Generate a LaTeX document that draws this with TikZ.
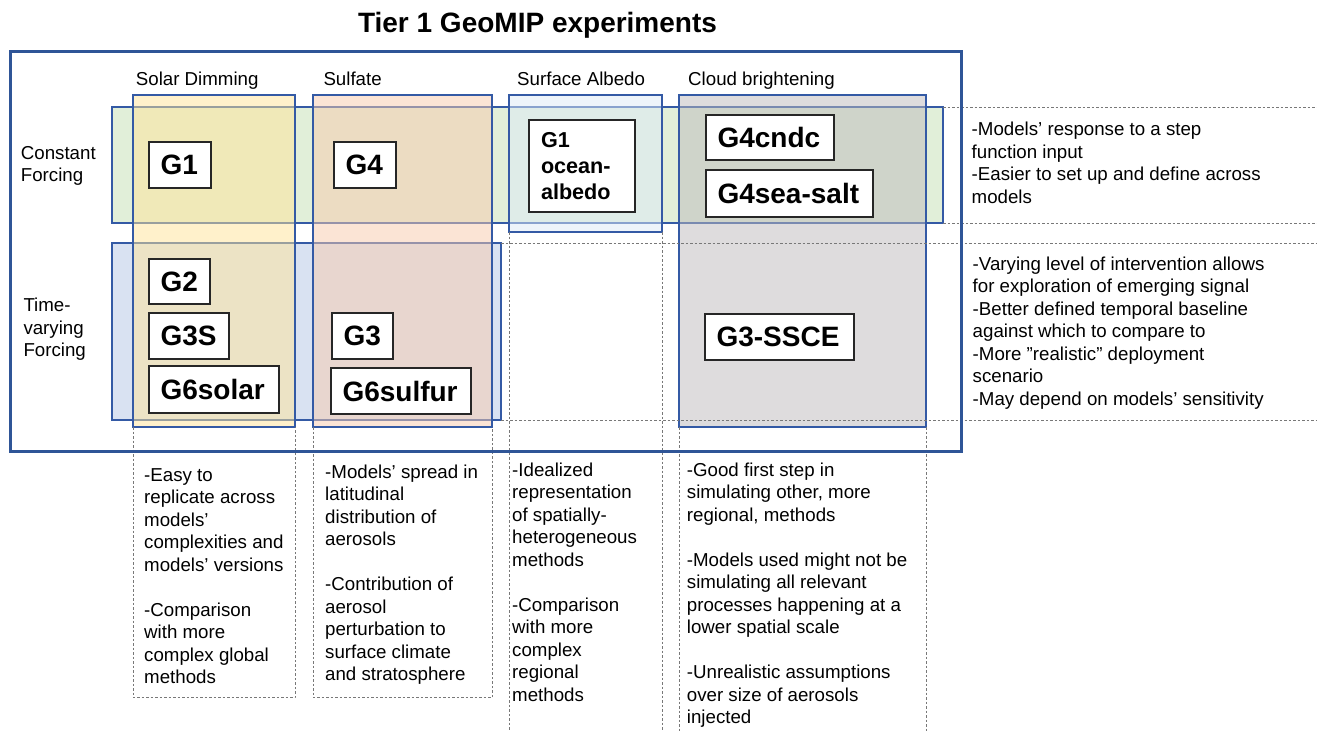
\documentclass[tikz,border=0pt]{standalone}
\usepackage{fontspec}
\setmainfont{Liberation Sans}
\definecolor{frameblue}{RGB}{47,85,151}
\definecolor{edgeblue}{RGB}{52,90,165}
\definecolor{cyellow}{RGB}{255,229,153}
\definecolor{cpink}{RGB}{248,203,173}
\definecolor{calb}{RGB}{222,235,247}
\definecolor{cgrey}{RGB}{190,186,188}
\definecolor{cgreen}{RGB}{197,224,180}
\definecolor{cblue}{RGB}{180,199,231}
\definecolor{dashgrey}{RGB}{120,120,120}
\tikzset{
  band/.style={draw=edgeblue, line width=1.1pt, fill opacity=0.5, text opacity=1, inner sep=0pt, outer sep=0pt, anchor=north west},
  gbox/.style={draw=black!85, line width=1.3pt, fill=white, inner xsep=11.5pt, inner ysep=0pt, outer sep=0pt, align=left, anchor=north west, font=\bfseries\fontsize{28}{32}\selectfont},
  body/.style={inner sep=0pt, align=left, anchor=north west, font=\fontsize{18.7}{22.5}\selectfont},
  dline/.style={draw=dashgrey, line width=0.8pt, dash pattern=on 2.5pt off 2pt},
}
\begin{document}
\begin{tikzpicture}[x=1pt,y=-1pt]
\fill[white] (0,0) rectangle (1317,731);
\useasboundingbox (0,0) rectangle (1317,731);
\coordinate (redge) at (1317,0);
\coordinate (bedge) at (0,731);
\coordinate (boxbot) at (0,697.5);

% title
\node[font=\bfseries\fontsize{28}{32}\selectfont, anchor=base, inner sep=0pt] (title) at (537.5,32.7) {Tier 1 GeoMIP experiments};

% rows
\node[band, fill=cgreen, minimum width=831pt, minimum height=116pt] (conrow) at (112,107) {};
\node[band, fill=cblue, minimum width=389pt, minimum height=177pt] (tvrow) at (112,243) {};
% columns
\node[band, fill=cyellow, minimum width=162pt, minimum height=332pt] (solcol) at (133,95) {};
\node[band, fill=cpink, minimum width=179pt, minimum height=332pt] (sulcol) at (313,95) {};
\node[band, fill=calb, minimum width=153pt, minimum height=137pt] (albcol) at (509,95) {};
\node[band, fill=cgrey, minimum width=247pt, minimum height=332pt] (cldcol) at (679,95) {};

% dashed guide lines
\draw[dline] (conrow.north east) -- (conrow.north east -| redge);
\draw[dline] (conrow.south east) -- (conrow.south east -| redge);
\draw[dline] (tvrow.north east) -- (tvrow.north east -| redge);
\draw[dline] (tvrow.south east) -- (tvrow.south east -| redge);
\draw[dline] (albcol.south west) -- (albcol.south west |- bedge);
\draw[dline] (albcol.south east) -- (albcol.south east |- bedge);
\draw[dline] (cldcol.south west) -- (cldcol.south west |- bedge);
\draw[dline] (cldcol.south east) -- (cldcol.south east |- bedge);
\draw[dline] (solcol.south west) -- (solcol.south west |- boxbot) -- (solcol.south east |- boxbot) -- (solcol.south east);
\draw[dline] (sulcol.south west) -- (sulcol.south west |- boxbot) -- (sulcol.south east |- boxbot) -- (sulcol.south east);

% outer frame
\node[draw=frameblue, line width=3pt, minimum width=951pt, minimum height=400pt, anchor=north west, inner sep=0pt, outer sep=0pt] (frame) at (10,51) {};

% headers
\node[body, anchor=base west] (hsol) at (135.7,85) {Solar Dimming};
\node[body, anchor=base west] (hsul) at (323.3,85) {Sulfate};
\node[body, anchor=base west] (halb) at (517,85) {Surface Albedo};
\node[body, anchor=base west] (hcld) at (688,85) {Cloud brightening};
\node[body] (rcon) at (20.7,143.25) {\strut Constant\\Forcing};
\node[body] (rtv) at (23.3,296) {\strut Time-\\varying\\Forcing};

% experiment boxes
\node[gbox, text width=39pt, minimum height=46pt] (g1) at (149,142) {G1};
\node[gbox, text width=39pt, minimum height=46pt] (g4) at (334,142) {G4};
\node[gbox, text width=82pt, minimum height=92pt, inner xsep=12pt, font=\bfseries\fontsize{21.6}{26}\selectfont] (g1oa) at (529,120) {G1\\ocean-\\albedo};
\node[gbox, text width=105pt, minimum height=45pt] (g4cndc) at (706,115) {G4cndc};
\node[gbox, text width=144pt, minimum height=47pt] (g4ss) at (706,170) {G4sea-salt};
\node[gbox, text width=38pt, minimum height=45pt] (g2) at (149,259) {G2};
\node[gbox, text width=57pt, minimum height=46pt] (g3s) at (149,313) {G3S};
\node[gbox, text width=107pt, minimum height=47pt] (g6so) at (149,366) {G6solar};
\node[gbox, text width=38pt, minimum height=46pt] (g3) at (332,313) {G3};
\node[gbox, text width=117pt, minimum height=46pt] (g6su) at (331,368) {G6sulfur};
\node[gbox, text width=126pt, minimum height=46pt] (g3ssce) at (705,314) {G3-SSCE};

% right-hand notes
\node[body] (rt1) at (971.5,119.75) {\strut-Models’ response to a step\\function input\\-Easier to set up and define across\\models};
\node[body] (rt2) at (972.5,254.25) {\strut-Varying level of intervention allows\\for exploration of emerging signal\\-Better defined temporal baseline\\against which to compare to\\-More ”realistic” deployment\\scenario\\-May depend on models’ sensitivity};

% bottom notes
\node[body] (bsol) at (144,465.25) {\strut-Easy to\\replicate across\\models’\\complexities and\\models’ versions\\[22.5pt]-Comparison\\with more\\complex global\\methods};
\node[body] (bsul) at (325,462.5) {\strut-Models’ spread in\\latitudinal\\distribution of\\aerosols\\[22.5pt]-Contribution of\\aerosol\\perturbation to\\surface climate\\and stratosphere};
\node[body] (balb) at (512,460.25) {\strut-Idealized\\representation\\of spatially-\\heterogeneous\\methods\\[22.5pt]-Comparison\\with more\\complex\\regional\\methods};
\node[body] (bcld) at (686.7,460.25) {\strut-Good first step in\\simulating other, more\\regional, methods\\[22.5pt]-Models used might not be\\simulating all relevant\\processes happening at a\\lower spatial scale\\[22.5pt]-Unrealistic assumptions\\over size of aerosols\\injected};
\end{tikzpicture}
\end{document}
